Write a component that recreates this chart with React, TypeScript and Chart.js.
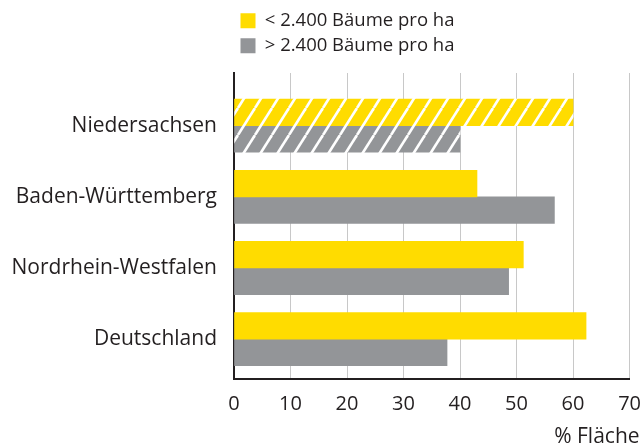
import React, { useEffect, useRef } from "react";
import { Chart, registerables } from "chart.js";

Chart.register(...registerables);

const categories = ["Niedersachsen", "Baden-Württemberg", "Nordrhein-Westfalen", "Deutschland"];
const seriesLabels = ["< 2.400 Bäume pro ha", "> 2.400 Bäume pro ha"];
const below2400 = [60, 43.0, 51.2, 62.3];
const above2400 = [40, 56.7, 48.6, 37.7];
const hatchedCategory = "Niedersachsen";
const xTickMin = 0;
const xTickMax = 70;
const xTickStep = 10;
const xAxisTitle = "% Fläche";

const YELLOW = "#FFDC00";
const GRAY = "#939598";
const DARK = "#231F20";
const GRID = "#C8C8C8";
const FONT = '"Open Sans", sans-serif';
const seriesColors = [YELLOW, GRAY];

function makeHatch(color: string): CanvasPattern | string {
  const w = 17;
  const h = 27;
  const c = document.createElement("canvas");
  c.width = w;
  c.height = h;
  const g = c.getContext("2d");
  if (!g) return color;
  g.fillStyle = color;
  g.fillRect(0, 0, w, h);
  g.strokeStyle = "#FFFFFF";
  g.lineWidth = 2.6;
  for (let k = 0; k <= 2; k++) {
    g.beginPath();
    g.moveTo(k * w - w, h);
    g.lineTo(k * w, 0);
    g.stroke();
  }
  const p = g.createPattern(c, "repeat");
  return p || color;
}

const legendSpacer = {
  id: "legendSpacer",
  beforeInit(chart: any) {
    const legend = chart.legend;
    if (!legend || legend._spacerPatched) return;
    const orig = legend.fit;
    legend.fit = function () {
      orig.call(this);
      this.height += 8;
    };
    legend._spacerPatched = true;
  },
};

const axisTitlePlugin = {
  id: "axisTitlePlugin",
  afterDraw(chart: any) {
    const ctx = chart.ctx;
    ctx.save();
    ctx.font = `21px ${FONT}`;
    ctx.fillStyle = DARK;
    ctx.textAlign = "right";
    ctx.textBaseline = "alphabetic";
    ctx.fillText(xAxisTitle, chart.chartArea.right + 10, chart.height - 2);
    ctx.restore();
  },
};

export default function App() {
  const ref = useRef<HTMLCanvasElement>(null);

  useEffect(() => {
    if (!ref.current) return;
    const yellowHatch = makeHatch(YELLOW);
    const grayHatch = makeHatch(GRAY);
    const hatchIndex = categories.indexOf(hatchedCategory);

    const makeColor = (solid: string, hatch: CanvasPattern | string) => (ctx: any) =>
      ctx.type === "data" && ctx.dataIndex === hatchIndex ? hatch : solid;

    const chart = new Chart(ref.current, {
      type: "bar",
      data: {
        datasets: [
          {
            label: seriesLabels[0],
            data: categories.map((_, i) => ({ x: below2400[i], y: i })),
            backgroundColor: makeColor(YELLOW, yellowHatch) as any,
            borderWidth: 0,
            barThickness: 26.6,
          },
          {
            label: seriesLabels[1],
            data: categories.map((_, i) => ({ x: above2400[i], y: i })),
            backgroundColor: makeColor(GRAY, grayHatch) as any,
            borderWidth: 0,
            barThickness: 26.6,
          },
        ],
      },
      options: {
        indexAxis: "y",
        responsive: false,
        animation: false,
        layout: { padding: { top: 5, right: 2, bottom: 0, left: 0 } },
        plugins: {
          legend: {
            display: true,
            position: "top",
            align: "start",
            fullSize: false,
            labels: {
              boxWidth: 15,
              boxHeight: 15,
              padding: 6.5,
              color: DARK,
              font: { family: FONT, size: 18.5 },
              generateLabels: (chart: any) => {
                const items = Chart.defaults.plugins.legend.labels.generateLabels(chart);
                return items.map((it: any, i: number) => ({
                  ...it,
                  fillStyle: seriesColors[i],
                  strokeStyle: seriesColors[i],
                  lineWidth: 0,
                }));
              },
            },
          },
          tooltip: { enabled: false },
          title: { display: false },
        },
        scales: {
          x: {
            type: "linear",
            position: "bottom",
            min: xTickMin,
            max: xTickMax,
            ticks: {
              stepSize: xTickStep,
              color: DARK,
              padding: 0,
              font: { family: FONT, size: 20 },
            },
            grid: {
              color: GRID,
              lineWidth: 1,
              drawTicks: true,
              tickLength: 13,
              tickColor: "rgba(0,0,0,0)",
            },
            border: { display: true, color: DARK, width: 2 },
            afterFit: (scale: any) => {
              scale.height = 66;
            },
          },
          y: {
            type: "linear",
            position: "left",
            reverse: true,
            offset: false,
            min: -0.74,
            max: 3.56,
            afterBuildTicks: (scale: any) => {
              scale.ticks = categories.map((_, i) => ({ value: i }));
            },
            ticks: {
              color: DARK,
              padding: 17,
              autoSkip: false,
              font: { family: FONT, size: 21 },
              callback: (v: any) => categories[Math.round(Number(v))] ?? "",
            },
            grid: { display: false, drawTicks: false, offset: false },
            border: { display: true, color: DARK, width: 2 },
            afterFit: (scale: any) => {
              scale.width = 234;
            },
          },
        },
      },
      plugins: [legendSpacer, axisTitlePlugin],
    });
    return () => chart.destroy();
  }, []);

  return (
    <div style={{ position: "absolute", left: 0, top: 0, width: 641, height: 445, background: "#fff" }}>
      <canvas ref={ref} width={641} height={445} style={{ display: "block" }} />
    </div>
  );
}
